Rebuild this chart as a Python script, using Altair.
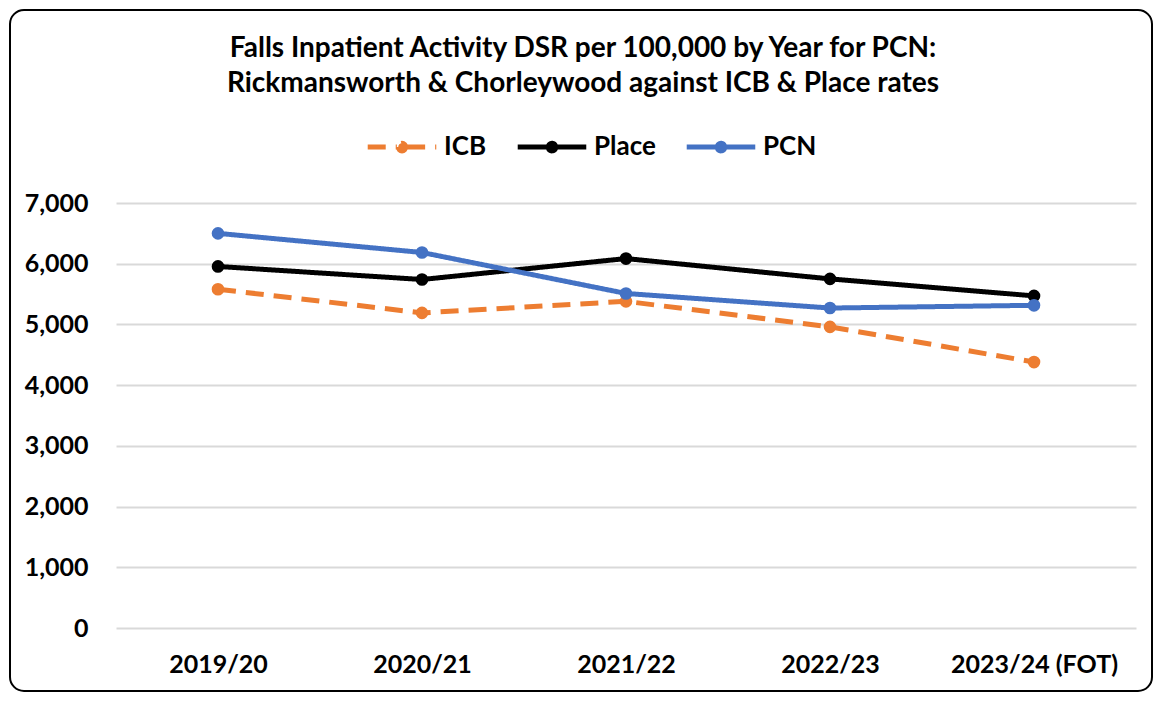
import altair as alt
import pandas as pd

years = ["2019/20", "2020/21", "2021/22", "2022/23", "2023/24 (FOT)"]
series = ["ICB", "Place", "PCN"]
icb = [5580, 5190, 5380, 4960, 4380]
place = [5955, 5740, 6085, 5750, 5470]
pcn = [6500, 6185, 5510, 5270, 5315]
colors = ["#ED7D31", "#000000", "#4472C4"]

rows = []
for name, vals in zip(series, [icb, place, pcn]):
    for y, v in zip(years, vals):
        rows.append({"Year": y, "Series": name, "Value": v})
df = pd.DataFrame(rows)

FONT = "Lato"
W, H = 1020, 425

legend_path = ("M-1,0L-0.15,0M0.15,0L1,0"
               "M-0.11,0A0.11,0.11 0 1,0 0.11,0A0.11,0.11 0 1,0 -0.11,0")

color_scale = alt.Scale(domain=series, range=colors)
dash_scale = alt.Scale(domain=series, range=[[18, 10], [1, 0], [1, 0]])

legend = alt.Legend(
    title=None, orient="none", direction="horizontal",
    legendX=249, legendY=-93,
    symbolType=legend_path, symbolSize=4700, symbolStrokeWidth=5,
    labelFont=FONT, labelFontSize=26, labelFontWeight="bold", labelColor="#000000",
    columnPadding=20, labelOffset=5,
)

lines = alt.Chart(df).mark_line(strokeWidth=5, point=alt.OverlayMarkDef(size=160, filled=True, opacity=1)).encode(
    x=alt.X("Year:O", sort=years, scale=alt.Scale(padding=0.5),
            axis=alt.Axis(title=None, labelAngle=0, labelFont=FONT, labelFontSize=25,
                          labelFontWeight="bold", labelColor="#000000", labelPadding=24,
                          ticks=False, domain=False, grid=False)),
    y=alt.Y("Value:Q", scale=alt.Scale(domain=[0, 7000], nice=False),
            axis=alt.Axis(title=None, values=list(range(0, 7001, 1000)), format=",.0f",
                          labelFont=FONT, labelFontSize=25, labelFontWeight="bold",
                          labelColor="#000000", labelPadding=28, ticks=False, domain=False,
                          gridColor="#D9D9D9", gridWidth=2)),
    color=alt.Color("Series:N", scale=color_scale, legend=legend, sort=series),
    strokeDash=alt.StrokeDash("Series:N", scale=dash_scale, legend=legend, sort=series),
    order=alt.Order("Year:O"),
)

border = alt.Chart(pd.DataFrame({"a": [0]})).mark_rect(
    fill=None, stroke="#000000", strokeWidth=2, cornerRadius=14
).encode(
    x=alt.value(-106), x2=alt.value(W + 16),
    y=alt.value(-193), y2=alt.value(H + 63),
)

chart = alt.layer(lines, border).properties(
    width=W, height=H,
    title=alt.TitleParams(
        text=["Falls Inpatient Activity DSR per 100,000 by Year for PCN:",
              "Rickmansworth & Chorleywood against ICB & Place rates"],
        font=FONT, fontSize=28, fontWeight="bold", color="#000000",
        anchor="middle", frame="group", dx=-43, offset=-89, lineHeight=35,
    ),
    autosize=alt.AutoSizeParams(type="none"),
    padding={"left": 108, "top": 195, "right": 18, "bottom": 65},
    background="white",
).configure_view(stroke=None)

chart.save("out.html", embed_options={"renderer": "svg", "actions": False})
